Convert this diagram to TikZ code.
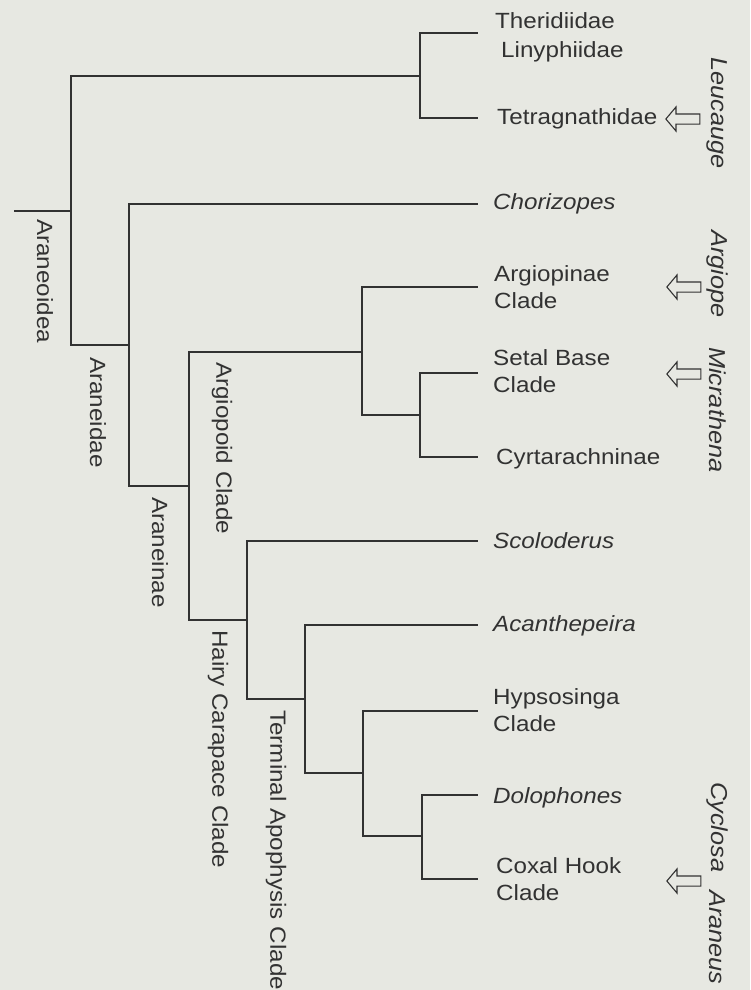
\documentclass[tikz,border=0pt]{standalone}
\usepackage{fontspec}
\setmainfont{Liberation Sans}[FakeStretch=1.1]
\usetikzlibrary{shapes.arrows}
\definecolor{bg}{RGB}{231,232,226}
\definecolor{ink}{RGB}{50,50,50}
\begin{document}
\begin{tikzpicture}[x=1pt,y=-1pt,
  branch/.style={draw=ink, line width=1.3pt},
  lbl/.style={text=ink, inner sep=0pt, font=\fontsize{22}{27.5}\selectfont},
  leaf/.style={lbl, anchor=base west},
  leafit/.style={lbl, anchor=base west, font=\fontsize{22}{27.5}\selectfont\itshape},
  leaftwo/.style={lbl, anchor=north west, align=left},
  cladelbl/.style={lbl, rotate=-90, anchor=west},
  genus/.style={lbl, rotate=-90, anchor=west, font=\fontsize{23}{28}\selectfont\itshape},
  pointer/.style={single arrow, draw=ink, line width=1.1pt, shape border rotate=180,
    minimum height=34pt, inner sep=4.5pt, single arrow head extend=7pt,
    single arrow tip angle=100, outer sep=0pt}
]
\fill[bg] (0,0) rectangle (750,990);
\useasboundingbox (0,0) rectangle (750,990);

% tree junctions and leaf ends
\coordinate (root) at (14,211);
\coordinate (n1) at (71,211);
\coordinate (n2) at (420,76);
\coordinate (eTher) at (478,33);
\coordinate (eTetr) at (478,118);
\coordinate (n3) at (129,345);
\coordinate (eChor) at (478,204);
\coordinate (n4) at (189,486);
\coordinate (n5) at (362,352);
\coordinate (eArgp) at (478,287);
\coordinate (n6) at (420,415);
\coordinate (eSeta) at (478,373);
\coordinate (eCyrt) at (478,457);
\coordinate (n7) at (247,620);
\coordinate (eScol) at (478,541);
\coordinate (n8) at (305,699);
\coordinate (eAcan) at (478,625);
\coordinate (n9) at (363,773);
\coordinate (eHyps) at (478,711);
\coordinate (n10) at (422,836);
\coordinate (eDolo) at (478,795);
\coordinate (eCoxa) at (478,879);

\draw[branch] (root) -- (n1);
\draw[branch] (n1) |- (n2);  \draw[branch] (n1) |- (n3);
\draw[branch] (n2) |- (eTher); \draw[branch] (n2) |- (eTetr);
\draw[branch] (n3) |- (eChor); \draw[branch] (n3) |- (n4);
\draw[branch] (n4) |- (n5);  \draw[branch] (n4) |- (n7);
\draw[branch] (n5) |- (eArgp); \draw[branch] (n5) |- (n6);
\draw[branch] (n6) |- (eSeta); \draw[branch] (n6) |- (eCyrt);
\draw[branch] (n7) |- (eScol); \draw[branch] (n7) |- (n8);
\draw[branch] (n8) |- (eAcan); \draw[branch] (n8) |- (n9);
\draw[branch] (n9) |- (eHyps); \draw[branch] (n9) |- (n10);
\draw[branch] (n10) |- (eDolo); \draw[branch] (n10) |- (eCoxa);

% leaf labels
\node[leaf] (tTher) at (495,29) {Theridiidae};
\node[leaf] (tLiny) at (501,57) {Linyphiidae};
\node[leaf] (tTetr) at (497,124) {Tetragnathidae};
\node[leafit] (tChor) at (493,209) {Chorizopes};
\node[leaftwo] (tArgp) at (494,265) {Argiopinae\\Clade};
\node[leaftwo] (tSeta) at (493,349) {Setal Base\\Clade};
\node[leaf] (tCyrt) at (496,464) {Cyrtarachninae};
\node[leafit] (tScol) at (493,548) {Scoloderus};
\node[leafit] (tAcan) at (493,631) {Acanthepeira};
\node[leaftwo] (tHyps) at (493,688) {Hypsosinga\\Clade};
\node[leafit] (tDolo) at (493,803) {Dolophones};
\node[leaftwo] (tCoxa) at (496,857) {Coxal Hook\\Clade};

% clade labels
\node[cladelbl] (lAraneoidea) at (45,219) {Araneoidea};
\node[cladelbl] (lAraneidae) at (98,357) {Araneidae};
\node[cladelbl] (lArgiopoid) at (222,362) {Argiopoid Clade};
\node[cladelbl] (lAraneinae) at (160,497) {Araneinae};
\node[cladelbl] (lHairy) at (218,630) {Hairy Carapace Clade};
\node[cladelbl] (lTerminal) at (276,710) {Terminal Apophysis Clade};

% genus labels
\node[genus] (gLeucauge) at (717,57) {Leucauge};
\node[genus] (gArgiope) at (717,230) {Argiope};
\node[genus] (gMicrathena) at (718,347) {Micrathena};
\node[genus] (gCyclosa) at (717,782) {Cyclosa};
\node[genus] (gAraneus) at (717,890) {Araneus};

% pointers
\node[pointer] (aLeucauge) at (685,119) {};
\node[pointer] (aArgiope) at (686,287) {};
\node[pointer] (aMicrathena) at (686,374) {};
\node[pointer] (aAraneus) at (686,881) {};
\end{tikzpicture}
\end{document}
